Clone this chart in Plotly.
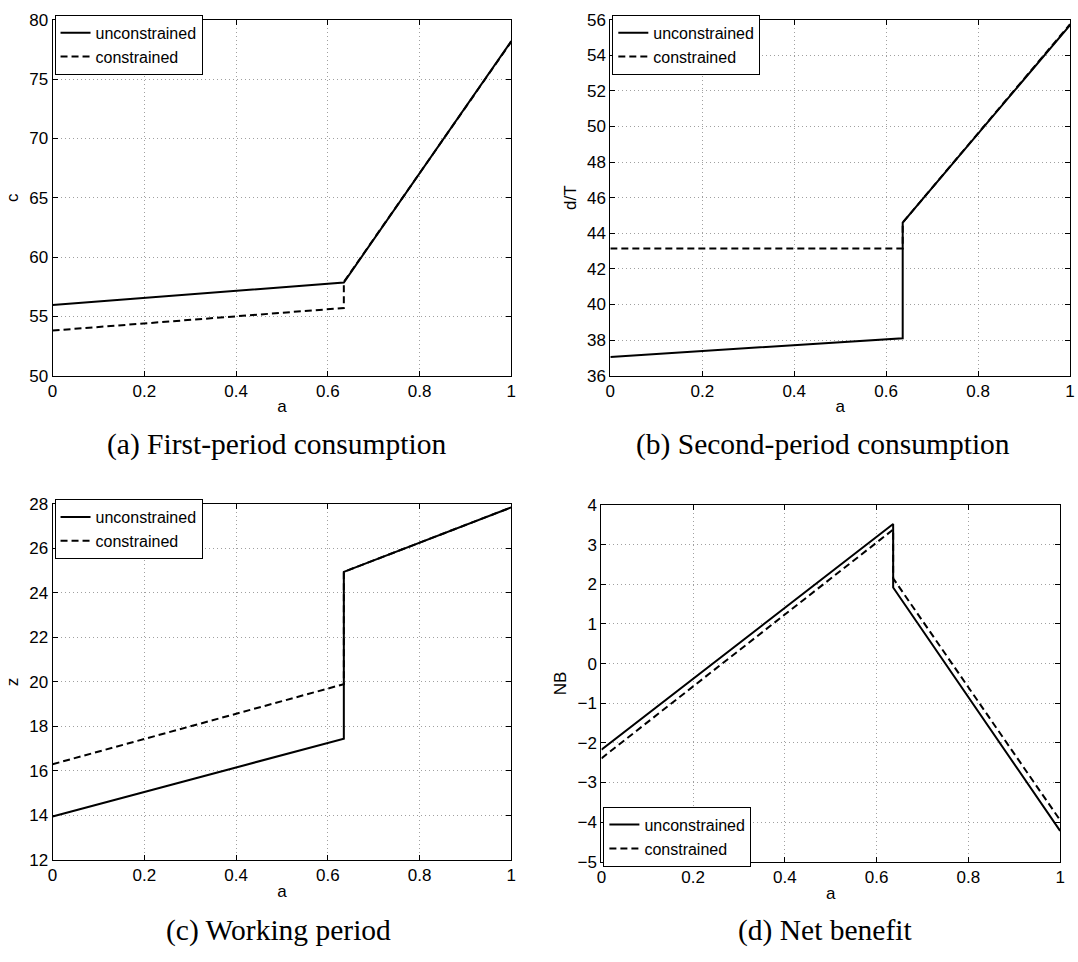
import plotly.graph_objects as go

# ---------------- data ----------------
# (a) First-period consumption
a_unc_x = [0, 0.635, 1]
a_unc_y = [55.95, 57.85, 78.2]
a_con_x = [0, 0.635, 0.635, 1]
a_con_y = [53.8, 55.7, 57.9, 78.15]

# (b) Second-period consumption
b_unc_x = [0, 0.636, 0.636, 1]
b_unc_y = [37.05, 38.1, 44.6, 55.7]
b_con_x = [0, 0.636, 0.636, 1]
b_con_y = [43.15, 43.15, 44.6, 55.75]

# (c) Working period
c_unc_x = [0, 0.635, 0.635, 1]
c_unc_y = [13.95, 17.45, 24.95, 27.85]
c_con_x = [0, 0.635, 0.635, 1]
c_con_y = [16.3, 19.9, 24.95, 27.85]

# (d) Net benefit
d_unc_x = [0, 0.636, 0.636, 1]
d_unc_y = [-2.17, 3.52, 1.92, -4.22]
d_con_x = [0, 0.636, 0.636, 1]
d_con_y = [-2.39, 3.38, 2.15, -3.95]

x_ticks = [0, 0.2, 0.4, 0.6, 0.8, 1]
y_ranges = [[50, 80], [36, 56], [12, 28], [-5, 4]]
y_dticks = [5, 2, 2, 1]
y_titles = ["c", "d/T", "z", "NB"]
x_title = "a"
captions = ["(a) First-period consumption", "(b) Second-period consumption",
            "(c) Working period", "(d) Net benefit"]
series_names = ["unconstrained", "constrained"]

panels = [
    (a_unc_x, a_unc_y, a_con_x, a_con_y),
    (b_unc_x, b_unc_y, b_con_x, b_con_y),
    (c_unc_x, c_unc_y, c_con_x, c_con_y),
    (d_unc_x, d_unc_y, d_con_x, d_con_y),
]

# ---------------- layout geometry (pixels) ----------------
W, H = 1078, 962
boxes = [  # left, right, top, bottom
    (48, 511, 11, 374),
    (611, 1075, 11, 374),
    (48, 511, 505, 868),
    (602, 1065, 506, 870),
]
caption_cx = [274, 826, 276, 828]
caption_cy = [444, 444, 940, 940]

SANS = "Liberation Sans, Arial, Helvetica, sans-serif"
SERIF = "Liberation Serif, Times New Roman, serif"

fig = go.Figure()
layout = dict(
    width=W, height=H,
    margin=dict(l=0, r=0, t=0, b=0),
    paper_bgcolor="white", plot_bgcolor="white",
    font=dict(family=SANS, size=16, color="black"),
    annotations=[],
)

for i, (ux, uy, cx, cy) in enumerate(panels):
    k = "" if i == 0 else str(i + 1)
    leg = "legend" if i == 0 else "legend" + str(i + 1)
    fig.add_trace(go.Scatter(x=ux, y=uy, mode="lines", name=series_names[0],
                             line=dict(color="black", width=2),
                             xaxis="x" + k, yaxis="y" + k, legend=leg))
    fig.add_trace(go.Scatter(x=cx, y=cy, mode="lines", name=series_names[1],
                             line=dict(color="black", width=2, dash="7px,4px"),
                             xaxis="x" + k, yaxis="y" + k, legend=leg))
    l, r, t, b = boxes[i]
    common = dict(showline=True, linecolor="black", linewidth=1, mirror="allticks",
                  ticks="inside", ticklen=5, tickcolor="black", tickwidth=1,
                  showgrid=True, gridcolor="#a0a0a0", gridwidth=1, griddash="1px,3px",
                  zeroline=False, tickfont=dict(family=SANS, size=17))
    layout["xaxis" + k] = dict(common, domain=[l / W, r / W], anchor="y" + k,
                               range=[0, 1], tickvals=x_ticks,
                               title=dict(text=x_title, standoff=0, font=dict(size=17)))
    layout["yaxis" + k] = dict(common, domain=[1 - b / H, 1 - t / H], anchor="x" + k,
                               range=y_ranges[i], dtick=y_dticks[i],
                               title=dict(text=y_titles[i], standoff=6, font=dict(size=17)))
    # legend
    if i < 3:
        legpos = dict(x=(l + 2) / W, y=1 - (t - 5) / H, xanchor="left", yanchor="top")
    else:
        legpos = dict(x=(l + 2) / W, y=1 - (b + 5) / H, xanchor="left", yanchor="bottom")
    layout[leg] = dict(legpos, bgcolor="white", bordercolor="black", borderwidth=1,
                       font=dict(family=SANS, size=16), itemwidth=30,
                       tracegroupgap=0, traceorder="normal")
    # caption
    layout["annotations"].append(dict(
        text=captions[i], xref="paper", yref="paper",
        x=caption_cx[i] / W, y=1 - caption_cy[i] / H, xanchor="center", yanchor="middle",
        showarrow=False, font=dict(family=SERIF, size=29.5, color="black")))

fig.update_layout(**layout)
fig.write_html("out.html")
